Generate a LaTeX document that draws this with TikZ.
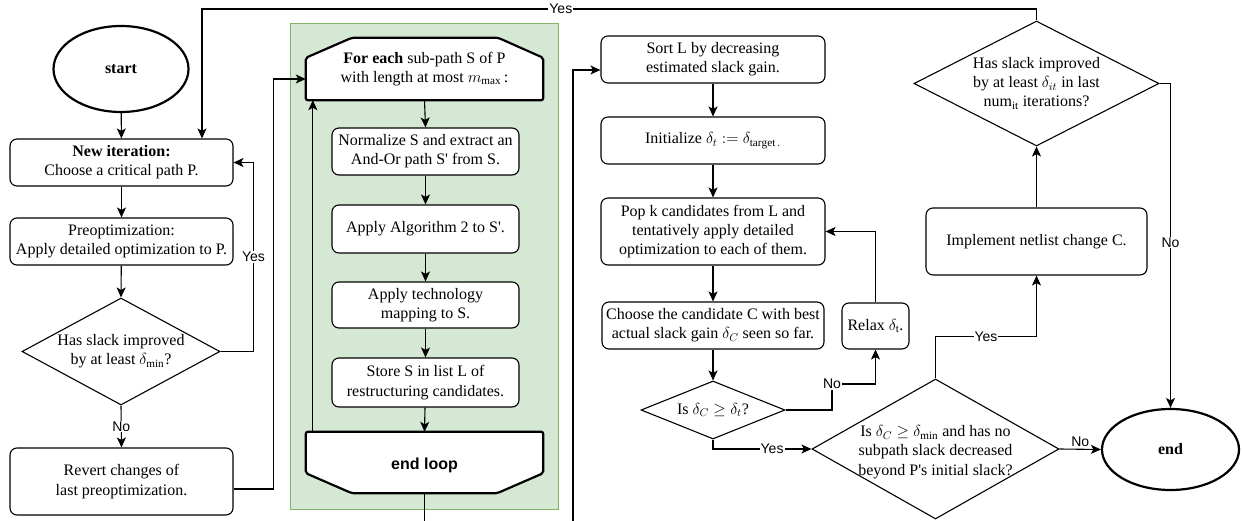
\RequirePackage{fix-cm}
\documentclass[tikz,border=0pt]{standalone}
\usepackage{fontspec}
\setmainfont{Liberation Serif}
\setsansfont{Liberation Sans}
\usetikzlibrary{arrows.meta,shapes.geometric,calc}
\definecolor{grpfill}{HTML}{D5E8D4}
\definecolor{grpline}{HTML}{82B366}
\tikzset{
  box/.style={draw, line width=1.1pt, rounded corners=7pt, align=center, inner sep=0pt, fill=white},
  diam/.style={draw, diamond, line width=1.1pt, inner sep=0pt, fill=white},
  term/.style={draw, ellipse, line width=2.2pt, font=\fontsize{16}{19.2}\selectfont\bfseries, fill=white},
  hexline/.style={draw, line width=2.2pt, rounded corners=2pt, fill=white},
  lbl/.style={font=\sffamily\fontsize{14}{16}\selectfont, fill=white, inner sep=1pt},
  arr/.style={line width=1.1pt, -{Stealth[length=10pt,width=9pt,inset=2.5pt]}},
  plain/.style={line width=1.1pt}
}
\newcommand{\sq}{\textquotesingle}
\begin{document}
\begin{tikzpicture}[x=1pt,y=-1pt,font=\fontsize{16}{19.2}\selectfont]
\useasboundingbox (0,0) rectangle (1242,521);

% green loop container
\node[draw=grpline, fill=grpfill, line width=1pt, minimum width=268pt, minimum height=485pt, inner sep=0pt] (grp) at (424,266.5) {};

% left column
\node[term, minimum width=135pt, minimum height=86pt] (start) at (121,69) {start};
\node[box, minimum width=223pt, minimum height=47pt] (new) at (121.5,162.5) {\textbf{New iteration:}\\Choose a critical path P.};
\node[box, minimum width=223pt, minimum height=47pt] (pre) at (121.5,241.5) {Preoptimization:\\Apply detailed optimization to P.};
\node[diam, minimum width=198pt, minimum height=107pt,
  label={[align=center]center:Has slack improved\\by at least $\delta_{\mathrm{min}}$?}] (d1) at (121,351.5) {};
\node[box, minimum width=223pt, minimum height=67pt] (rev) at (121.5,481.5) {Revert changes of\\last preoptimization.};

% loop column
\node[inner sep=0pt, minimum width=237pt, minimum height=62pt] (fe) at (424.5,69) {};
\draw[hexline] (fe.south west) -- ($(fe.north west)+(0,20)$) -- ($(fe.north west)+(46,0)$)
  -- ($(fe.north east)+(-45,0)$) -- ($(fe.north east)+(0,20)$) -- (fe.south east) -- cycle;
\node[align=center] (fetxt) at (fe.center) {\textbf{For each} sub-path S of P\\with length at most $m_{\mathrm{max}}$\,:};
\node[box, minimum width=187pt, minimum height=47pt] (norm) at (425.5,151.5) {Normalize S and extract an\\And-Or path S\sq{} from S.};
\node[box, minimum width=187pt, minimum height=48pt] (alg) at (425.5,229) {Apply Algorithm 2 to S\sq.};
\node[box, minimum width=187pt, minimum height=46pt] (tech) at (425.5,305) {Apply technology\\mapping to S.};
\node[box, minimum width=187pt, minimum height=49pt] (store) at (425.5,382.5) {Store S in list L of\\restructuring candidates.};
\node[inner sep=0pt, minimum width=237pt, minimum height=61pt] (el) at (424.5,462.5) {};
\draw[hexline] (el.north west) -- (el.north east) -- ($(el.south east)+(0,-20)$) -- ($(el.south east)+(-46,0)$)
  -- ($(el.south west)+(46,0)$) -- ($(el.south west)+(0,-20)$) -- cycle;
\node[font=\sffamily\fontsize{16}{19.2}\selectfont\bfseries] (eltxt) at ($(el.center)+(0,3)$) {end loop};

% third column
\node[box, minimum width=224pt, minimum height=47pt] (sort) at (713,59.5) {Sort L by decreasing\\estimated slack gain.};
\node[box, minimum width=224pt, minimum height=47pt] (init) at (713,140.5) {Initialize $\delta_t := \delta_{\mathrm{target}\,.}$};
\node[box, minimum width=224pt, minimum height=67pt] (pop) at (713,231.5) {Pop k candidates from L and\\tentatively apply detailed\\optimization to each of them.};
\node[box, minimum width=222pt, minimum height=47pt] (choose) at (713,325.5) {Choose the candidate C with best\\actual slack gain $\delta_C$ seen so far.};
\node[diam, minimum width=144pt, minimum height=58pt,
  label={[align=center]center:Is $\delta_C \geq \delta_t$?}] (d4) at (713,410) {};
\node[box, minimum width=67pt, minimum height=46pt] (relax) at (875.5,326) {Relax $\delta_{\mathrm{t}}$.};

% right part
\node[diam, minimum width=247pt, minimum height=140pt,
  label={[align=center, yshift=-3pt]center:Is $\delta_C \geq \delta_{\mathrm{min}}$ and has no\\subpath slack decreased\\beyond P\sq s initial slack?}] (d2) at (935.5,449) {};
\node[term, minimum width=137pt, minimum height=81pt] (endn) at (1170.5,449.5) {end};
\node[box, minimum width=221pt, minimum height=67pt] (impl) at (1036.5,241.5) {Implement netlist change C.};
\node[diam, minimum width=245pt, minimum height=125pt,
  label={[align=center]center:Has slack improved\\by at least $\delta_{it}$ in last\\num$_{\mathrm{it}}$ iterations?}] (d3) at (1036.5,83.5) {};

% connectors
\coordinate (topline) at (0,9);
\coordinate (newin) at ([xshift=80.5pt]new.north);
\coordinate (lowturn) at (573,560);
\coordinate (noturn) at (832,384);

\draw[arr] (start) -- (new);
\draw[arr] (new) -- (pre);
\draw[arr] (pre) -- (d1.north);
\draw[arr] (d1.east) -- ++(33,0) |- node[lbl,pos=0.25]{Yes} (new.east);
\draw[arr] (d1.south) -- node[lbl]{No} (rev.north);
\draw[arr] ([yshift=-7.5pt]rev.east) -- ++(40,0) |- ([yshift=-10pt]fe.west);
\draw[arr] (fe.south) -- (norm.north);
\draw[arr] (norm) -- (alg);
\draw[arr] (alg) -- (tech);
\draw[arr] (tech) -- (store);
\draw[arr] (store) -- (el.north);
\draw[arr] ([xshift=7pt]el.north west) -- ([xshift=7pt]fe.south west);
\draw[arr] (el.south) |- (lowturn) |- ([yshift=-10.5pt]sort.west);
\draw[arr] (sort) -- (init);
\draw[arr] (init) -- (pop);
\draw[arr] (pop) -- (choose);
\draw[arr] (choose) -- (d4.north);
\draw[arr] (d4.east) -| (noturn) -| (relax.south);
\node[lbl] (nolbl) at (noturn) {No};
\draw[arr] (relax.north) |- (pop.east);
\draw[arr] (d4.south) |- node[lbl,pos=0.8]{Yes} (d2.west);
\draw[arr] (d2.east) -- node[lbl, fill=none, above=1pt]{No} (endn.west);
\draw[arr] (d2.north) -- ++(0,-42) -| node[lbl,pos=0.25]{Yes} (impl.south);
\draw[arr] (impl.north) -- (d3.south);
\draw[arr] (d3.east) -| node[lbl,pos=0.745]{No} (endn.north);
\draw[arr] (d3.north) -- (d3.north |- topline) -- node[lbl,pos=0.57]{Yes} (newin |- topline) -- (newin);
\end{tikzpicture}
\end{document}
